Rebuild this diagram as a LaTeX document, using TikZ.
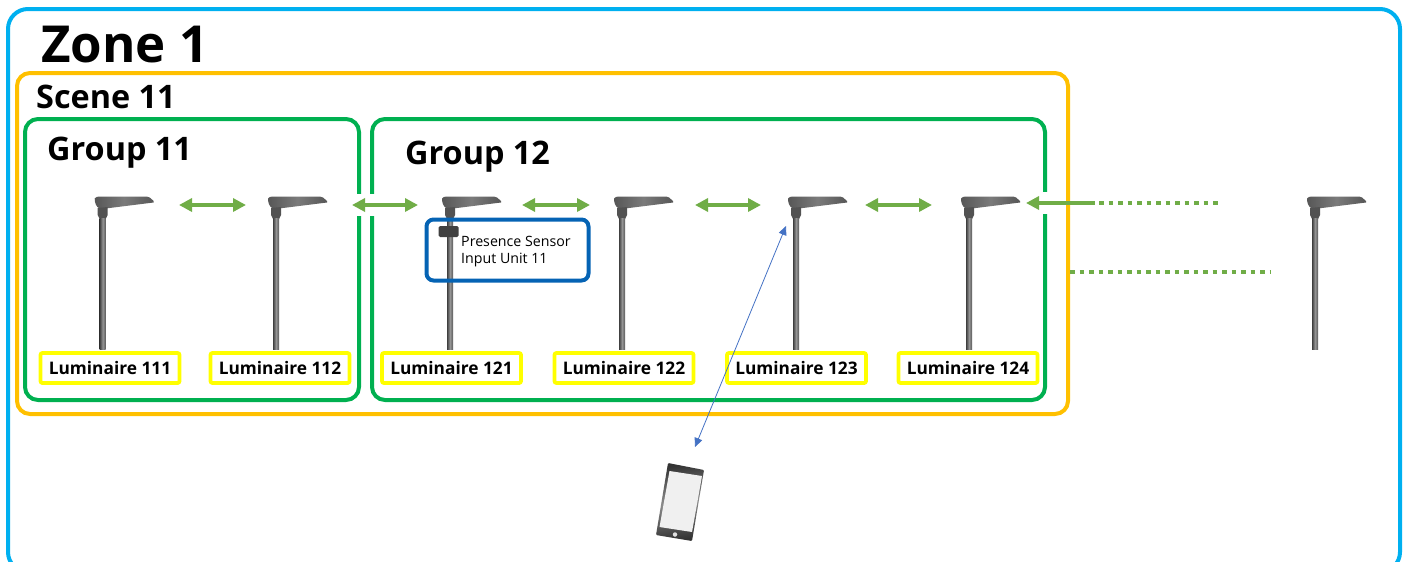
\documentclass[tikz,border=0pt]{standalone}
\usepackage{fontspec}
\setmainfont{Open Sans}
\usetikzlibrary{arrows.meta}
\definecolor{zoneblue}{HTML}{00B0F0}
\definecolor{sceneamber}{HTML}{FFC000}
\definecolor{groupgreen}{HTML}{00B050}
\definecolor{lumyellow}{HTML}{FFFF00}
\definecolor{linkgreen}{HTML}{70AD47}
\definecolor{sensorblue}{HTML}{0563B4}
\definecolor{phoneblue}{HTML}{4472C4}
\tikzset{
  x=1pt,y=-1pt,
  framebox/.style={draw,line width=4pt,rounded corners=13pt},
  lumbox/.style={draw=lumyellow,line width=3.8pt,rounded corners=2pt,fill=white,minimum width=139pt,minimum height=30pt,inner sep=0pt,font=\fontsize{17.3}{20}\selectfont\bfseries},
  title/.style={anchor=base west,inner sep=0pt,font=\bfseries},
  link/.style={draw=linkgreen,line width=3.6pt,{Triangle[length=13pt,width=13pt]}-{Triangle[length=13pt,width=13pt]}},
  linkone/.style={draw=linkgreen,line width=3.6pt,{Triangle[length=13pt,width=13pt]}-},
  dots/.style={draw=linkgreen,line width=4pt,dash pattern=on 4.6pt off 4.9pt},
  lamp/.pic={
    \shade[left color=black!66,right color=black!66,middle color=black!52]
      (-8,-6.5) .. controls (-7.5,-8) and (-5,-8.5) .. (-3,-8.5) -- (44,-8.5) -- (47,-7.5) -- (51,-4)
      -- (51,-2.5) -- (3,3.5) -- (-3,3.5) .. controls (-7,2) and (-8,-3) .. (-8,-6.5) -- cycle;
    \fill[black!68] (-5,3) -- (5,2) -- (5,10) -- (3,14) -- (-3,14) -- (-5,10) -- cycle;
    \shade[left color=black!75,right color=black!65,middle color=black!42] (-3,13) rectangle (3,144);
  }
}
\begin{document}
\begin{tikzpicture}
\useasboundingbox (0,0) rectangle (1405,562);
\clip (0,0) rectangle (1405,562);
% frames
\draw[framebox,draw=zoneblue,rounded corners=20pt] (8,9) rectangle (1400,572);
\draw[framebox,draw=sceneamber] (17,73) rectangle (1068,414);
\draw[framebox,draw=groupgreen] (25,119) rectangle (359,400);
\draw[framebox,draw=groupgreen] (372,119) rectangle (1045,400);
% gaps in the group frames where the links pass
\fill[white] (355,194) rectangle (376,216);
\fill[white] (1041,192) rectangle (1049,214);
% titles
\node[title,font=\fontsize{51}{56}\selectfont\bfseries] (zonet) at (41,62) {Zone 1};
\node[title,font=\fontsize{32.4}{36}\selectfont\bfseries] (scenet) at (36,108) {Scene 11};
\node[title,font=\fontsize{32.4}{36}\selectfont\bfseries] (g11t) at (47,160) {Group 11};
\node[title,font=\fontsize{32.4}{36}\selectfont\bfseries] (g12t) at (405,164) {Group 12};
% lamps
\foreach \n/\x in {a/102.7,b/276,c/450,d/622,e/796,f/969,g/1315}
  \pic (lamp\n) at (\x,205) {lamp};
% sensor unit
\node[draw=sensorblue,line width=4pt,rounded corners=7pt,minimum width=162pt,minimum height=61pt,inner sep=0pt] (sensorbox) at (507.5,250) {};
\node[fill=black!75,rounded corners=1.5pt,minimum width=20pt,minimum height=11pt,inner sep=0pt] (sensor) at (448.5,231.5) {};
\node[anchor=north west,inner sep=0pt,align=left,font=\fontsize{14.2}{17.5}\selectfont] (sensort) at (461,236) {Presence Sensor\\Input Unit 11};
% luminaire labels
\node[lumbox] (l111) at (110,368) {Luminaire 111};
\node[lumbox] (l112) at (280,368) {Luminaire 112};
\node[lumbox] (l121) at (451.5,368) {Luminaire 121};
\node[lumbox] (l122) at (624,368) {Luminaire 122};
\node[lumbox] (l123) at (796.5,368) {Luminaire 123};
\node[lumbox] (l124) at (968,368) {Luminaire 124};
% link end points
\foreach \nm/\xa/\xb in {p/179/246,q/352/418,r/522/590,s/695/761,t/865/932}{
  \coordinate (\nm1) at (\xa,205);
  \coordinate (\nm2) at (\xb,205);
  \draw[link] (\nm1) -- (\nm2);
}
\coordinate (u1) at (1026,203);
\coordinate (u2) at (1095,203);
\coordinate (u3) at (1218,203);
\coordinate (v1) at (1070,272);
\coordinate (v2) at (1270,272);
\draw[linkone] (u1) -- (u2);
\draw[dots] (u2) ++(4,0) -- (u3);
\draw[dots] (v1) -- (v2);
% phone
\shade[left color=black!80,right color=black!80,middle color=black!45,shading angle=8,rounded corners=1pt]
  (668,463) -- (704,470) -- (692,541) -- (656,535) -- cycle;
\fill[black!6] (669.5,471) -- (702,476) -- (692,532) -- (659.5,527) -- cycle;
\node[circle,fill=black!12,minimum size=4.5pt,inner sep=0pt] (phonebtn) at (675,534.5) {};
\coordinate (phonetop) at (695,447);
\coordinate (lamptop) at (786,226);
\draw[draw=phoneblue,line width=0.8pt,{Triangle[length=9pt,width=8pt]}-{Triangle[length=9pt,width=8pt]}] (lamptop) -- (phonetop);
\end{tikzpicture}
\end{document}
